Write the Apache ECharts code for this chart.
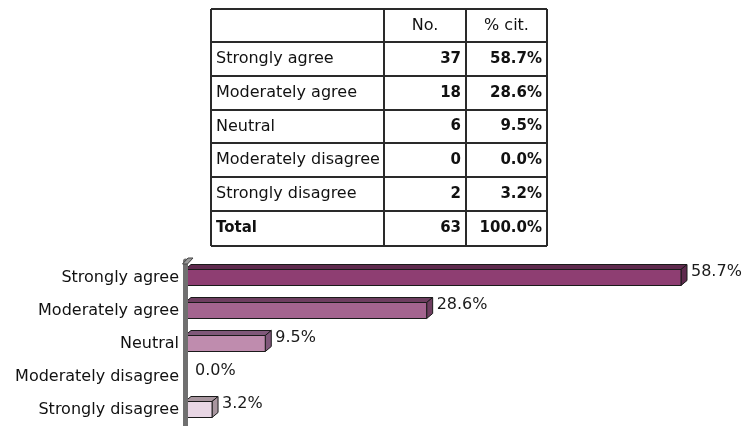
<!DOCTYPE html>
<html>
<head>
<meta charset="utf-8">
<script src="https://cdn.jsdelivr.net/npm/echarts/dist/echarts.min.js"></script>
<style>
  html, body { margin: 0; padding: 0; background: #fff; }
  #chart { width: 744px; height: 426px; }
</style>
</head>
<body>
<div id="chart"></div>
<script>
const CATEGORIES = ['Strongly agree', 'Moderately agree', 'Neutral', 'Moderately disagree', 'Strongly disagree'];
const COUNTS = [37, 18, 6, 0, 2];
const PCTS = [58.7, 28.6, 9.5, 0.0, 3.2];
const TOTAL_COUNT = 63;
const TOTAL_PCT = 100.0;
const HEADERS = ['', 'No.', '% cit.'];

// front / top-and-side shade per bar
const BAR_COLORS = [
  { front: '#8e3e72', shade: '#5f2a4e' },
  { front: '#a4648f', shade: '#6e3e60' },
  { front: '#bf8cae', shade: '#80587a' },
  { front: '#d9b6cc', shade: '#9a7a90' },
  { front: '#e8d6e4', shade: '#a8969f' },
];

const FONT = 'DejaVu Sans';
const FRONT_H = 16;
const DX = 6, DY = 5;
const GRID = { left: 185, top: 261, width: 557.7, height: 165 };

// table layout
const COL_X = [211, 384, 466, 547];
const ROW_Y = [9, 42, 76, 110, 143, 177, 211, 246];

function tableGraphic() {
  const els = [];
  const rows = [HEADERS];
  CATEGORIES.forEach((c, i) => rows.push([c, String(COUNTS[i]), PCTS[i].toFixed(1) + '%']));
  rows.push(['Total', String(TOTAL_COUNT), TOTAL_PCT.toFixed(1) + '%']);

  ROW_Y.forEach(y => els.push({
    type: 'line', shape: { x1: COL_X[0], y1: y, x2: COL_X[3], y2: y },
    style: { stroke: '#2a2a2a', lineWidth: 2 }
  }));
  COL_X.forEach(x => els.push({
    type: 'line', shape: { x1: x, y1: ROW_Y[0], x2: x, y2: ROW_Y[ROW_Y.length - 1] },
    style: { stroke: '#2a2a2a', lineWidth: 2 }
  }));

  rows.forEach((r, ri) => {
    const yc = (ROW_Y[ri] + ROW_Y[ri + 1]) / 2;
    const header = ri === 0;
    const total = ri === rows.length - 1;
    r.forEach((t, ci) => {
      if (!t) return;
      let x, align;
      if (header) { x = (COL_X[ci] + COL_X[ci + 1]) / 2; align = 'center'; }
      else if (ci === 0) { x = COL_X[0] + 5; align = 'left'; }
      else { x = COL_X[ci + 1] - 5; align = 'right'; }
      const bold = !header && (ci > 0 || total);
      els.push({
        type: 'text', x: x, y: yc,
        style: {
          text: t, fill: '#111', align: align, verticalAlign: 'middle',
          font: (bold ? 'bold 15px ' : '16px ') + FONT
        }
      });
    });
  });

  // slanted cap on top of the axis wall
  const wx = GRID.left, wy = GRID.top;
  els.push({
    type: 'polygon', z: 10,
    shape: { points: [[wx - 2.5, wy + 3], [wx + 2.5, wy + 3], [wx + 8, wy - 3], [wx + 3, wy - 3]] },
    style: { fill: '#9a9a9a', stroke: '#444', lineWidth: 1 }
  });
  return els;
}

const chart = echarts.init(document.getElementById('chart'));
chart.setOption({
  animation: false,
  backgroundColor: '#fff',
  grid: GRID,
  xAxis: { type: 'value', min: 0, max: 66, show: false },
  yAxis: {
    type: 'category',
    data: CATEGORIES,
    inverse: true,
    z: 3,
    axisTick: { show: false },
    axisLine: { lineStyle: { color: '#707070', width: 5 } },
    axisLabel: { margin: 6, color: '#111', fontSize: 16, fontFamily: FONT },
    splitLine: { show: false }
  },
  series: [{
    type: 'custom',
    data: PCTS.map((v, i) => [v, i]),
    encode: { x: 0, y: 1 },
    renderItem(params, api) {
      const v = api.value(0);
      const p0 = api.coord([0, api.value(1)]);
      const p1 = api.coord([v, api.value(1)]);
      const x0 = p0[0], x1 = p1[0], yc = p0[1];
      const top = yc - FRONT_H / 2, bot = yc + FRONT_H / 2;
      const c = BAR_COLORS[params.dataIndex];
      const edge = { stroke: '#1a1a1a', lineWidth: 1 };
      const children = [];
      if (v > 0) {
        children.push(
          { type: 'polygon', shape: { points: [[x0, top], [x1, top], [x1 + DX, top - DY], [x0 + DX, top - DY]] },
            style: Object.assign({ fill: c.shade }, edge) },
          { type: 'polygon', shape: { points: [[x1, top], [x1 + DX, top - DY], [x1 + DX, bot - DY], [x1, bot]] },
            style: Object.assign({ fill: c.shade }, edge) },
          { type: 'rect', shape: { x: x0, y: top, width: x1 - x0, height: FRONT_H },
            style: Object.assign({ fill: c.front }, edge) }
        );
      }
      children.push({
        type: 'text', x: x1 + DX + 4, y: yc - 6,
        style: { text: v.toFixed(1) + '%', fill: '#1a1a1a', font: '16px ' + FONT, verticalAlign: 'middle' }
      });
      return { type: 'group', children: children };
    }
  }],
  graphic: tableGraphic()
});
</script>
</body>
</html>
